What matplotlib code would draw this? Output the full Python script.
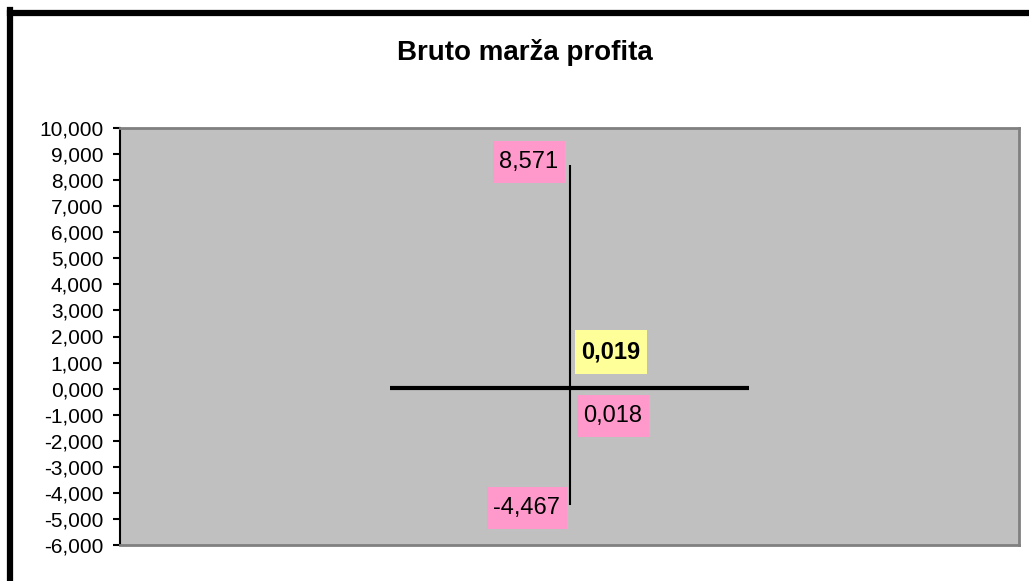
# Bruto marza profita - high/low/close style chart
import matplotlib
matplotlib.use("Agg")
import matplotlib.pyplot as plt
from matplotlib.lines import Line2D

plt.rcParams['font.family'] = ['Liberation Sans', 'DejaVu Sans']

categories = [0.5]
high = [8.571]
low = [-4.467]
close = [0.019]
low_close = [0.018]
yticks = list(range(-6, 11))

fig = plt.figure(figsize=(10.29, 5.81), dpi=100)
ax = fig.add_axes([120 / 1029, 1 - 545 / 581, 899 / 1029, 417 / 581])
ax.set_facecolor('#C0C0C0')

# high-low line and close bar
ax.vlines(categories, low, high, color='black', lw=1.5)
ax.hlines(close, [c - 0.2 for c in categories], [c + 0.2 for c in categories],
          color='black', lw=3)

ax.set_xlim(0, 1)
ax.set_ylim(-6, 10)
ax.set_yticks(yticks)
ax.set_yticklabels([f"{v:.3f}".replace('.', ',') for v in yticks], fontsize=15)
ax.set_xticks([])
ax.tick_params(axis='y', direction='out', length=5, width=1.5, pad=7)

for s in ['top', 'right', 'bottom']:
    ax.spines[s].set_color('#808080')
    ax.spines[s].set_linewidth(2)
ax.spines['left'].set_color('black')
ax.spines['left'].set_linewidth(1.5)

pink = dict(boxstyle='square,pad=0.27', fc='#FF99CC', ec='none', mutation_aspect=1.6)
yellow = dict(boxstyle='square,pad=0.27', fc='#FFFF99', ec='none', mutation_aspect=1.6)
fs = 17

x0 = categories[0]
ax.annotate(f"{high[0]:.3f}".replace('.', ','), (x0, high[0]), xytext=(-11, 3),
            textcoords='offset pixels', ha='right', va='center', fontsize=fs, bbox=pink)
ax.annotate(f"{low[0]:.3f}".replace('.', ','), (x0, low[0]), xytext=(-9, -3),
            textcoords='offset pixels', ha='right', va='center', fontsize=fs, bbox=pink)
ax.annotate(f"{close[0]:.3f}".replace('.', ','), (x0, close[0]), xytext=(12, 36),
            textcoords='offset pixels', ha='left', va='center', fontsize=fs,
            fontweight='bold', bbox=yellow)
ax.annotate(f"{low_close[0]:.3f}".replace('.', ','), (x0, low_close[0]), xytext=(14, -28),
            textcoords='offset pixels', ha='left', va='center', fontsize=fs, bbox=pink)

fig.text(525 / 1029, 1 - 52 / 581, "Bruto marža profita", ha='center', va='center',
         fontsize=20, fontweight='bold')

# outer chart frame (left and top only, cut off at right/bottom)
fig.add_artist(Line2D([10 / 1029, 10 / 1029], [0, 1 - 10 / 581], color='black', lw=4.5,
                      transform=fig.transFigure, solid_capstyle='projecting'))
fig.add_artist(Line2D([10 / 1029, 1], [1 - 13 / 581, 1 - 13 / 581], color='black', lw=4.5,
                      transform=fig.transFigure, solid_capstyle='projecting'))

fig.savefig("out.png", dpi=100)
